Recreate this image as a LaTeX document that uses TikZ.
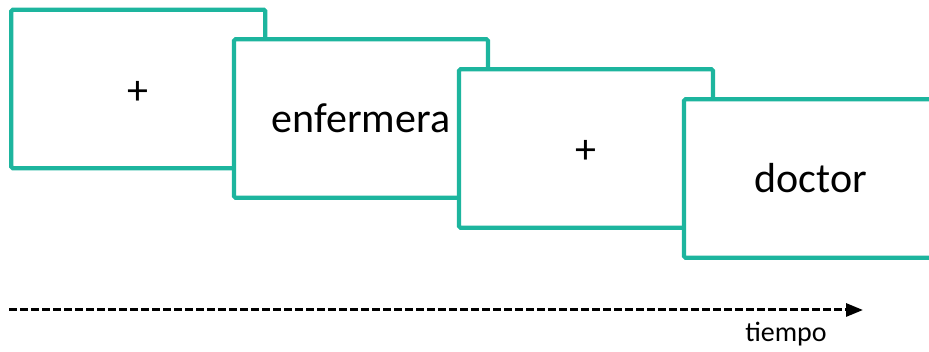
\documentclass[tikz,border=0pt]{standalone}
\usepackage{fontspec}
\setmainfont{Carlito}
\usetikzlibrary{arrows.meta}
\definecolor{frameteal}{RGB}{29,181,158}
\newcommand{\fixcross}{\raisebox{-3.5pt}[\height][\depth]{+}}
\begin{document}
\begin{tikzpicture}[x=1pt,y=-1pt,
  slide/.style={draw=frameteal, line width=4.2pt, fill=white, rounded corners=1.5pt,
    minimum width=254pt, minimum height=158.5pt, inner sep=0pt,
    font=\fontsize{42}{50}\selectfont},
  timeline/.style={line width=3pt, dash pattern=on 8pt off 3pt,
    -{Triangle[length=17pt,width=13pt]}}]
  \useasboundingbox (0,0) rectangle (929,352);
  \clip (0,0) rectangle (929,352);
  % four stimulus frames, each shifted right and down
  \node[slide] (f1) at (138.3,89)  {\fixcross};
  \node[slide] (f2) at (361,118.5) {enfermera};
  \node[slide] (f3) at (586,148.5) {\fixcross};
  \node[slide] (f4) at (811,178.5) {doctor};
  % time axis
  \coordinate (t0) at (9,310);
  \coordinate (t1) at (863,310);
  \draw[timeline] (t0) -- (t1);
  \node[anchor=base, font=\fontsize{28}{34}\selectfont, inner sep=0pt] (lbl) at (786,342) {tiempo};
\end{tikzpicture}
\end{document}
